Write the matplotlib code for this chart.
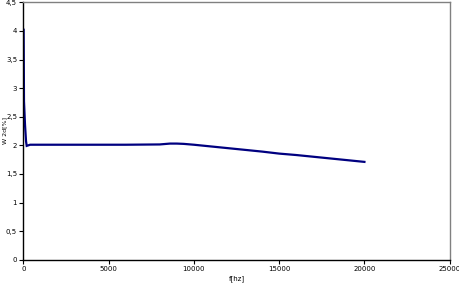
import matplotlib
matplotlib.use("Agg")
import matplotlib.pyplot as plt
from matplotlib.ticker import FuncFormatter

# frequency [Hz] and W 2d [%]
freq = [20, 40, 100, 160, 200, 400, 1000, 2000, 4000, 6000, 8000,
        8600, 9000, 9400, 10000, 11000, 12000, 13000, 14000, 15000,
        16000, 17000, 18000, 19000, 20000]
w2d = [4.02, 2.77, 2.36, 2.07, 1.99, 2.01, 2.01, 2.01, 2.01, 2.01, 2.015,
       2.03, 2.03, 2.025, 2.01, 1.98, 1.95, 1.92, 1.89, 1.855,
       1.83, 1.80, 1.77, 1.74, 1.71]

x_ticks = [0, 5000, 10000, 15000, 20000, 25000]
y_ticks = [0, 0.5, 1, 1.5, 2, 2.5, 3, 3.5, 4, 4.5]

fig = plt.figure(figsize=(4.6, 2.86), dpi=100)
ax = fig.add_axes([23.3 / 460, 1 - 259.7 / 286, (449.7 - 23.3) / 460, (259.7 - 2.3) / 286])

ax.plot(freq, w2d, color="#000080", linewidth=1.6, solid_joinstyle="miter")

ax.set_xlim(0, 25000)
ax.set_ylim(0, 4.5)
ax.set_xticks(x_ticks)
ax.set_yticks(y_ticks)
ax.yaxis.set_major_formatter(FuncFormatter(lambda v, p: ("%g" % v).replace(".", ",")))
ax.tick_params(direction="out", length=3, width=0.8, labelsize=5, pad=1.5)

ax.spines["left"].set_color("black")
ax.spines["bottom"].set_color("black")
ax.spines["top"].set_color("#808080")
ax.spines["right"].set_color("#808080")
for s in ax.spines.values():
    s.set_linewidth(1.0)

ax.set_xlabel("f[hz]", fontsize=5)
ax.xaxis.set_label_coords(0.5, -15.5 / 257.4)
ax.set_ylabel("W 2d[%]", fontsize=4.5)
ax.yaxis.set_label_coords(-15.5 / 426.4, 0.5)

fig.savefig("out.png", dpi=100)
